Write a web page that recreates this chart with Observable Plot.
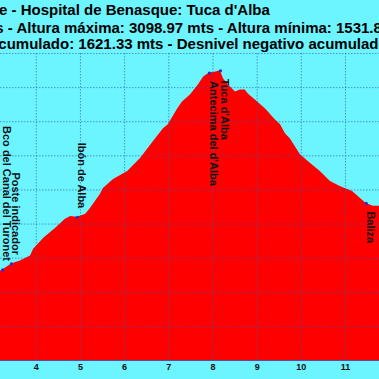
<!DOCTYPE html>
<html>
<head>
<meta charset="utf-8">
<script src="https://cdn.jsdelivr.net/npm/d3@7"></script>
<script src="https://cdn.jsdelivr.net/npm/@observablehq/plot@0.6"></script>
<style>
  html, body { margin: 0; padding: 0; background: #6cf4ff; width: 379px; height: 379px; overflow: hidden; }
  #wrap { position: relative; width: 379px; height: 379px; overflow: hidden; }
  #chart { position: absolute; left: 0; top: 0; }
  .t { position: absolute; white-space: nowrap; font: bold 15px "Liberation Sans", Arial, sans-serif; color: #000; line-height: 15px; z-index: 2; }
</style>
</head>
<body>
<div id="wrap">
  <div id="chart"></div>
  <div class="t" style="left:-1px; top:2px;">e - Hospital de Benasque: Tuca d'Alba</div>
  <div class="t" style="left:-23px; top:20px;">mts - Altura máxima: 3098.97 mts - Altura mínima: 1531.8 mts</div>
  <div class="t" style="left:-10px; top:36px;">acumulado: 1621.33 mts - Desnivel negativo acumulado</div>
</div>
<script>
// Profile (distance km, elevation m)
const distKm = [3.19, 3.24, 3.44, 3.64, 3.87, 3.94, 4.17, 4.44, 4.66, 4.78, 4.93, 5.12, 5.23, 5.45, 5.52, 5.75, 6.07, 6.36, 6.65, 6.88, 6.99, 7.20, 7.31, 7.49, 7.67, 7.79, 7.92, 8.05, 8.17, 8.24, 8.35, 8.51, 8.62, 8.73, 8.80, 8.96, 9.19, 9.41, 9.53, 9.64, 9.75, 9.98, 10.21, 10.43, 10.66, 10.88, 11.16, 11.34, 11.47, 11.63, 11.77];
const elevM = [1925, 1931, 1966, 1983, 2012, 2053, 2117, 2176, 2228, 2245, 2240, 2257, 2292, 2374, 2409, 2461, 2508, 2584, 2683, 2759, 2782, 2875, 2916, 2957, 3015, 3062, 3085, 3090, 3099, 3050, 3015, 2974, 2986, 2986, 2963, 2928, 2875, 2811, 2782, 2729, 2700, 2607, 2555, 2508, 2450, 2420, 2391, 2350, 2321, 2304, 2304];

// Waypoints
const wpNames = ["Bco del Canal del Turonet", "Poste indicador", "Ibón de Alba", "Antecima del d'Alba", "Tuca d'Alba", "Baliza"];
const wpKm = [3.24, 3.44, 4.93, 7.92, 8.17, 11.47];
const wpElev = [1931, 1966, 2240, 3085, 3099, 2321];
const wpSide = ["above", "above", "above", "below", "below", "below"];

// Ticks
const kmTicks = [4, 5, 6, 7, 8, 9, 10, 11];
const elevTicks = [1600, 1800, 2000, 2200, 2400, 2600, 2800, 3000, 3200];

const profile = distKm.map((d, i) => ({km: d, elev: elevM[i]}));
const waypoints = wpNames.map((n, i) => ({name: n, km: wpKm[i], elev: wpElev[i], side: wpSide[i]}));

const gridStyle = {stroke: "#2f58b0", strokeOpacity: 0.6, strokeWidth: 1, strokeDasharray: "1.5,1.5"};

const chart = Plot.plot({
  width: 379,
  height: 379,
  marginLeft: 0,
  marginRight: 0,
  marginTop: 53,
  marginBottom: 19,
  style: {background: "transparent", fontFamily: "'Liberation Sans', Arial, sans-serif", overflow: "visible"},
  x: {domain: [3.19, 11.77], axis: null},
  y: {domain: [1400, 3200], axis: null},
  marks: [
    Plot.areaY(profile, {x: "km", y1: 1400, y2: "elev", fill: "#ff0000", curve: "linear"}),
    Plot.ruleX(kmTicks, gridStyle),
    Plot.ruleY(elevTicks, gridStyle),
    Plot.ruleY([1400], {stroke: "#5050b0", strokeWidth: 1.2}),
    Plot.dot(waypoints, {x: "km", y: "elev", r: 1.6, fill: "#2030d0", stroke: null}),
    Plot.text(waypoints.filter(d => d.side === "above"), {x: "km", y: "elev", text: "name", rotate: 90, textAnchor: "end", dx: 4, dy: -9, fontSize: 11, fontWeight: "bold", fill: "#111"}),
    Plot.text(waypoints.filter(d => d.side === "below"), {x: "km", y: "elev", text: "name", rotate: 90, textAnchor: "start", dx: 4, dy: 8, fontSize: 11, fontWeight: "bold", fill: "#111"}),
    Plot.axisX(kmTicks, {tickSize: 0, tickPadding: 3, fontSize: 9, fontWeight: "bold", fill: "#111", label: null, tickFormat: d => String(d)})
  ]
});
document.getElementById("chart").appendChild(chart);
</script>
</body>
</html>
